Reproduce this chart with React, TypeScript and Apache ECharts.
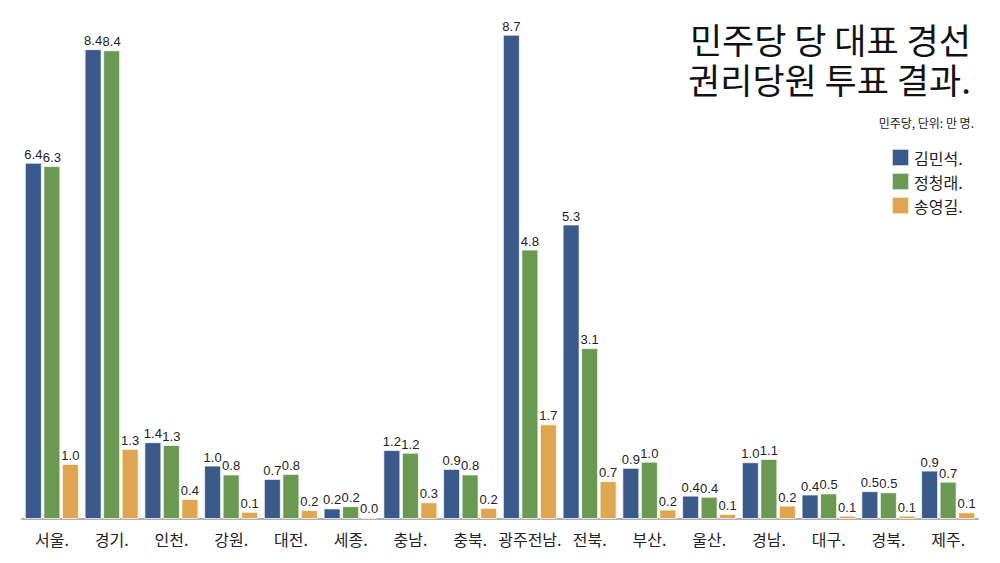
import React, { useEffect, useRef } from "react";
import * as echarts from "echarts";

const categories = ["서울.", "경기.", "인천.", "강원.", "대전.", "세종.", "충남.", "충북.", "광주전남.", "전북.", "부산.", "울산.", "경남.", "대구.", "경북.", "제주."];
const seriesNames = ["김민석.", "정청래.", "송영길."];
const kimValues = [6.40, 8.44, 1.38, 0.96, 0.72, 0.19, 1.24, 0.90, 8.70, 5.29, 0.92, 0.42, 1.02, 0.44, 0.50, 0.87];
const jeongValues = [6.34, 8.42, 1.33, 0.80, 0.81, 0.23, 1.19, 0.80, 4.84, 3.07, 1.03, 0.40, 1.08, 0.46, 0.48, 0.67];
const songValues = [0.99, 1.26, 0.36, 0.13, 0.16, 0.03, 0.30, 0.20, 1.70, 0.68, 0.17, 0.09, 0.24, 0.06, 0.06, 0.12];
const colors = ["#3a5a8c", "#6a9a52", "#e0a64f"];
const titleLines = ["민주당 당 대표 경선", "권리당원 투표 결과."];
const subtitle = "민주당, 단위: 만 명.";

const KR = '"Noto Sans CJK KR", "Noto Sans", sans-serif';
const NUM = '"Liberation Sans", Arial, "Noto Sans", sans-serif';

export default function App() {
  const ref = useRef<HTMLDivElement>(null);
  useEffect(() => {
    if (!ref.current) return;
    const chart = echarts.init(ref.current, undefined, { renderer: "svg" });
    const allValues = [kimValues, jeongValues, songValues];
    chart.setOption({
      animation: false,
      backgroundColor: "#ffffff",
      grid: { left: 22, right: 22, top: 18, bottom: 44, containLabel: false },
      legend: {
        orient: "vertical",
        left: 886,
        top: 143,
        itemWidth: 17,
        itemHeight: 17,
        itemGap: 5,
        icon: "rect",
        data: seriesNames,
        textStyle: { fontSize: 16, color: "#222", fontFamily: KR },
      },
      graphic: [
        {
          type: "text",
          x: 971,
          y: 38,
          style: {
            text: titleLines[0],
            textAlign: "right",
            textVerticalAlign: "middle",
            fontSize: 35,
            lineHeight: 36,
            fill: "#111",
            fontFamily: KR,
          },
        },
        {
          type: "text",
          x: 971,
          y: 78,
          style: {
            text: titleLines[1],
            textAlign: "right",
            textVerticalAlign: "middle",
            fontSize: 35,
            lineHeight: 36,
            fill: "#111",
            fontFamily: KR,
          },
        },
        {
          type: "text",
          x: 974,
          y: 122,
          style: {
            text: subtitle,
            textAlign: "right",
            textVerticalAlign: "middle",
            fontSize: 12,
            fill: "#222",
            fontFamily: KR,
          },
        },
      ],
      xAxis: {
        type: "category",
        data: categories,
        axisLine: { show: true, lineStyle: { color: "#b0b0b0", width: 2 } },
        axisTick: { show: false },
        axisLabel: { fontSize: 16, color: "#222", margin: 12, fontFamily: KR, interval: 0 },
      },
      yAxis: {
        type: "value",
        min: 0,
        max: 9,
        show: false,
        splitLine: { show: false },
      },
      series: seriesNames.map((name, i) => ({
        name,
        type: "bar",
        data: allValues[i],
        barWidth: 17,
        barGap: "9%",
        barCategoryGap: "8%",
        itemStyle: { color: colors[i], borderColor: "rgba(255,255,255,0.7)", borderWidth: 1 },
        label: {
          show: true,
          position: "top",
          distance: 2,
          fontSize: 13,
          color: "#222",
          fontFamily: NUM,
          formatter: (p: any) => Number(p.value).toFixed(1),
        },
      })),
    });
    return () => chart.dispose();
  }, []);
  return <div ref={ref} style={{ width: 1000, height: 563, position: "absolute", left: 0, top: 0 }} />;
}
